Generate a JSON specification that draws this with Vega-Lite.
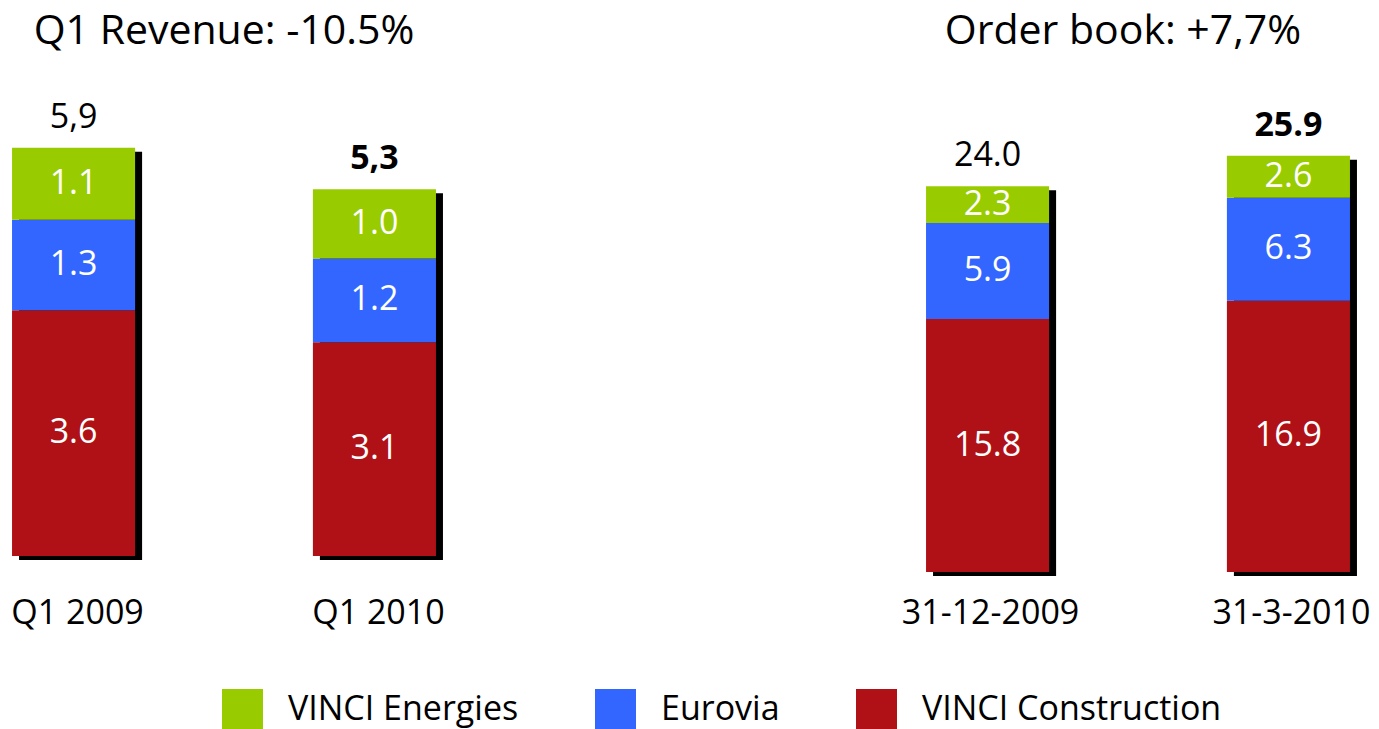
{
  "$schema": "https://vega.github.io/schema/vega-lite/v6.json",
  "padding": {"left": 0, "top": 11, "right": 0, "bottom": 0},
  "background": "white",
  "bounds": "flush",
  "spacing": 466,
  "config": {"view": {"stroke": null}, "font": "Open Sans"},
  "datasets": {
    "segs": [
      {"panel": "revenue", "cat": "Q1 2009", "seg": "VINCI Construction", "value": 3.55, "label": "3.6", "rank": 1},
      {"panel": "revenue", "cat": "Q1 2009", "seg": "Eurovia", "value": 1.31, "label": "1.3", "rank": 2},
      {"panel": "revenue", "cat": "Q1 2009", "seg": "VINCI Energies", "value": 1.04, "label": "1.1", "rank": 3},
      {"panel": "revenue", "cat": "Q1 2010", "seg": "VINCI Construction", "value": 3.09, "label": "3.1", "rank": 1},
      {"panel": "revenue", "cat": "Q1 2010", "seg": "Eurovia", "value": 1.21, "label": "1.2", "rank": 2},
      {"panel": "revenue", "cat": "Q1 2010", "seg": "VINCI Energies", "value": 1.0, "label": "1.0", "rank": 3},
      {"panel": "order", "cat": "31-12-2009", "seg": "VINCI Construction", "value": 15.74, "label": "15.8", "rank": 1},
      {"panel": "order", "cat": "31-12-2009", "seg": "Eurovia", "value": 5.97, "label": "5.9", "rank": 2},
      {"panel": "order", "cat": "31-12-2009", "seg": "VINCI Energies", "value": 2.3, "label": "2.3", "rank": 3},
      {"panel": "order", "cat": "31-3-2010", "seg": "VINCI Construction", "value": 16.88, "label": "16.9", "rank": 1},
      {"panel": "order", "cat": "31-3-2010", "seg": "Eurovia", "value": 6.41, "label": "6.3", "rank": 2},
      {"panel": "order", "cat": "31-3-2010", "seg": "VINCI Energies", "value": 2.61, "label": "2.6", "rank": 3}
    ],
    "totals": [
      {"panel": "revenue", "cat": "Q1 2009", "total": 5.9, "label": "5,9", "latest": false},
      {"panel": "revenue", "cat": "Q1 2010", "total": 5.3, "label": "5,3", "latest": true},
      {"panel": "order", "cat": "31-12-2009", "total": 24.0, "label": "24.0", "latest": false},
      {"panel": "order", "cat": "31-3-2010", "total": 25.9, "label": "25.9", "latest": true}
    ]
  },
  "hconcat": [
    {
      "width": 448,
      "height": 456,
      "title": {"text": "Q1 Revenue: -10.5%", "fontSize": 41, "fontWeight": "normal", "anchor": "middle", "offset": 47, "color": "black", "font": "Open Sans"},
      "encoding": {
        "x": {"field": "cat", "type": "nominal", "sort": null,
          "scale": {"domain": ["Q1 2009", "Q1 2010"], "paddingInner": 0.591, "paddingOuter": 0.04},
          "axis": {"title": null, "domain": false, "ticks": false, "tickSize": 0, "labelAngle": 0, "labelFontSize": 34, "labelFont": "Open Sans", "labelColor": "black", "labelPadding": 40, "labelLimit": 300, "labelOffset": 4}}
      },
      "layer": [
        {
          "data": {"name": "totals"},
          "transform": [{"filter": "datum.panel === 'revenue'"}],
          "mark": {"type": "bar", "color": "black", "xOffset": 7, "x2Offset": 7, "yOffset": 4, "y2Offset": 4},
          "encoding": {"y": {"field": "total", "type": "quantitative", "scale": {"domain": [0, 6.59], "nice": false}, "axis": null}}
        },
        {
          "data": {"name": "segs"},
          "transform": [{"filter": "datum.panel === 'revenue'"}],
          "mark": {"type": "bar"},
          "encoding": {
            "y": {"field": "value", "type": "quantitative", "stack": "zero"},
            "order": {"field": "rank", "type": "quantitative"},
            "color": {"field": "seg", "type": "nominal",
              "scale": {"domain": ["VINCI Energies", "Eurovia", "VINCI Construction"], "range": ["#99cc00", "#3366ff", "#b01116"]},
              "legend": {"orient": "none", "legendX": 222, "legendY": 589, "direction": "horizontal", "title": null, "symbolType": "square", "symbolSize": 1681, "symbolStrokeWidth": 0, "symbolOpacity": 1, "labelFontSize": 34, "labelFont": "Open Sans", "labelColor": "black", "labelOffset": 25, "columnPadding": 76, "labelLimit": 400}}
          }
        },
        {
          "data": {"name": "segs"},
          "transform": [
            {"filter": "datum.panel === 'revenue'"},
            {"stack": "value", "groupby": ["cat"], "sort": [{"field": "rank", "order": "ascending"}], "as": ["s0", "s1"]},
            {"fold": ["s0", "s1"], "as": ["edge", "pos"]}
          ],
          "mark": {"type": "text", "color": "white", "fontSize": 34, "baseline": "middle", "align": "center", "font": "Open Sans"},
          "encoding": {
            "y": {"aggregate": "mean", "field": "pos", "type": "quantitative", "stack": null},
            "detail": {"field": "seg", "type": "nominal"},
            "text": {"field": "label", "type": "nominal"}
          }
        },
        {
          "data": {"name": "totals"},
          "transform": [{"filter": "datum.panel === 'revenue' && !datum.latest"}],
          "mark": {"type": "text", "color": "black", "fontSize": 34, "baseline": "alphabetic", "align": "center", "dy": -20, "font": "Open Sans"},
          "encoding": {"y": {"field": "total", "type": "quantitative"}, "text": {"field": "label"}}
        },
        {
          "data": {"name": "totals"},
          "transform": [{"filter": "datum.panel === 'revenue' && datum.latest"}],
          "mark": {"type": "text", "color": "black", "fontSize": 34, "fontWeight": "bold", "baseline": "alphabetic", "align": "center", "dy": -20, "font": "Open Sans"},
          "encoding": {"y": {"field": "total", "type": "quantitative"}, "text": {"field": "label"}}
        }
      ]
    },
    {
      "width": 448,
      "height": 472,
      "title": {"text": "Order book: +7,7%", "fontSize": 41, "fontWeight": "normal", "anchor": "middle", "offset": 47, "dx": -15, "color": "black", "font": "Open Sans"},
      "encoding": {
        "x": {"field": "cat", "type": "nominal", "sort": null,
          "scale": {"domain": ["31-12-2009", "31-3-2010"], "paddingInner": 0.591, "paddingOuter": 0.04},
          "axis": {"title": null, "domain": false, "ticks": false, "tickSize": 0, "labelAngle": 0, "labelFontSize": 34, "labelFont": "Open Sans", "labelColor": "black", "labelPadding": 24, "labelLimit": 300, "labelOffset": 3}}
      },
      "layer": [
        {
          "data": {"name": "totals"},
          "transform": [{"filter": "datum.panel === 'order'"}],
          "mark": {"type": "bar", "color": "black", "xOffset": 7, "x2Offset": 7, "yOffset": 4, "y2Offset": 4},
          "encoding": {"y": {"field": "total", "type": "quantitative", "scale": {"domain": [0, 29.37], "nice": false}, "axis": null}}
        },
        {
          "data": {"name": "segs"},
          "transform": [{"filter": "datum.panel === 'order'"}],
          "mark": {"type": "bar"},
          "encoding": {
            "y": {"field": "value", "type": "quantitative", "stack": "zero"},
            "order": {"field": "rank", "type": "quantitative"},
            "color": {"field": "seg", "type": "nominal",
              "scale": {"domain": ["VINCI Energies", "Eurovia", "VINCI Construction"], "range": ["#99cc00", "#3366ff", "#b01116"]},
              "legend": {"orient": "none", "legendX": 222, "legendY": 589, "direction": "horizontal", "title": null, "symbolType": "square", "symbolSize": 1681, "symbolStrokeWidth": 0, "symbolOpacity": 1, "labelFontSize": 34, "labelFont": "Open Sans", "labelColor": "black", "labelOffset": 25, "columnPadding": 76, "labelLimit": 400}}
          }
        },
        {
          "data": {"name": "segs"},
          "transform": [
            {"filter": "datum.panel === 'order'"},
            {"stack": "value", "groupby": ["cat"], "sort": [{"field": "rank", "order": "ascending"}], "as": ["s0", "s1"]},
            {"fold": ["s0", "s1"], "as": ["edge", "pos"]}
          ],
          "mark": {"type": "text", "color": "white", "fontSize": 34, "baseline": "middle", "align": "center", "font": "Open Sans"},
          "encoding": {
            "y": {"aggregate": "mean", "field": "pos", "type": "quantitative", "stack": null},
            "detail": {"field": "seg", "type": "nominal"},
            "text": {"field": "label", "type": "nominal"}
          }
        },
        {
          "data": {"name": "totals"},
          "transform": [{"filter": "datum.panel === 'order' && !datum.latest"}],
          "mark": {"type": "text", "color": "black", "fontSize": 34, "baseline": "alphabetic", "align": "center", "dy": -20, "font": "Open Sans"},
          "encoding": {"y": {"field": "total", "type": "quantitative"}, "text": {"field": "label"}}
        },
        {
          "data": {"name": "totals"},
          "transform": [{"filter": "datum.panel === 'order' && datum.latest"}],
          "mark": {"type": "text", "color": "black", "fontSize": 34, "fontWeight": "bold", "baseline": "alphabetic", "align": "center", "dy": -20, "font": "Open Sans"},
          "encoding": {"y": {"field": "total", "type": "quantitative"}, "text": {"field": "label"}}
        }
      ]
    }
  ],
  "resolve": {"scale": {"color": "shared"}}
}
